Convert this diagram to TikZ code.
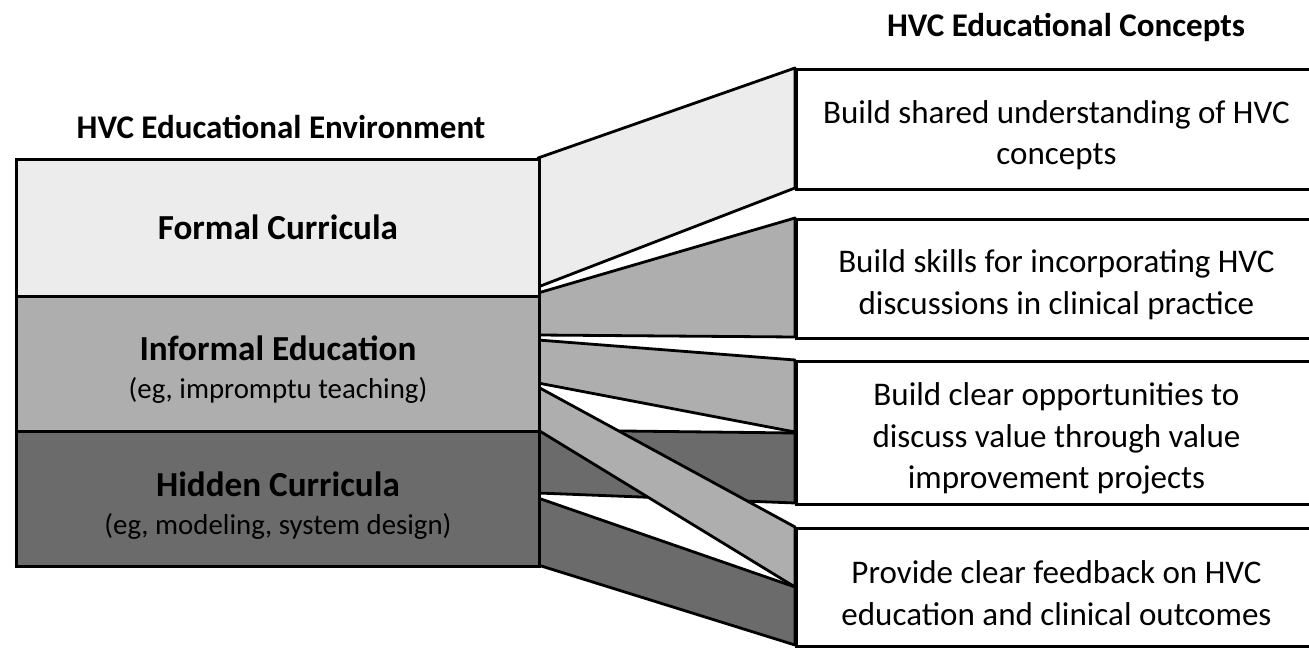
\documentclass[tikz,border=0pt]{standalone}
\usepackage{fontspec}
\setmainfont{Carlito}
\definecolor{formalgray}{HTML}{ECECEC}
\definecolor{informalgray}{HTML}{AEAEAE}
\definecolor{hiddengray}{HTML}{6B6B6B}
\tikzset{
  band/.style={draw=black, line width=0.07cm, line join=round},
  envbox/.style={draw=black, line width=0.07cm, anchor=north west, inner sep=0pt,
    minimum width=13.075cm},
  envlabel/.style={align=center, font=\fontsize{25}{27}\selectfont\bfseries},
  conceptbox/.style={draw=black, line width=0.07cm, fill=white, anchor=north west,
    inner sep=0pt, minimum width=13cm},
  conceptlabel/.style={align=center, font=\fontsize{23.5}{29.5}\selectfont,
    yshift=-0.14cm},
  heading/.style={font=\fontsize{23.5}{26}\selectfont\bfseries}
}
\newcommand{\envnote}[1]{{\fontsize{20.5}{27}\selectfont\mdseries #1}}
\begin{document}
\begin{tikzpicture}[x=0.025cm, y=-0.025cm]
                \useasboundingbox (0,0) rectangle (1309,648);
                \clip (0,0) rectangle (1309,648);

                % Drawing band formal -> shared understanding
                \draw [band, fill=formalgray] (538,158) -- (795,68) -- (795,188) -- (538,287) -- cycle;

                % Drawing band informal -> skills
                \draw [band, fill=informalgray] (538,293) -- (795,218) -- (795,337) -- (538,335) -- cycle;

                % Drawing band informal -> opportunities
                \draw [band, fill=informalgray] (538,340) -- (795,360) -- (795,432) -- (538,383) -- cycle;

                % Drawing band hidden -> opportunities
                \draw [band, fill=hiddengray] (538,430) -- (795,433) -- (795,503) -- (538,493) -- cycle;

                % Drawing band informal -> feedback
                \draw [band, fill=informalgray] (538,387) -- (795,527) -- (795,587) -- (538,430) -- cycle;

                % Drawing band hidden -> feedback
                \draw [band, fill=hiddengray] (538,498) -- (795,587) -- (795,645) -- (538,565) -- cycle;

                % Marking environment boxes
                \node [envbox, fill=formalgray, minimum height=3.425cm,
                  label={[envlabel, yshift=0.02cm]center:Formal Curricula}] (formal) at (15,158) {};
                \node [envbox, fill=informalgray, minimum height=3.375cm,
                  label={[envlabel, yshift=-0.15cm]center:Informal Education\\\envnote{(eg, impromptu teaching)}}]
                  (informal) at (15,295) {};
                \node [envbox, fill=hiddengray, minimum height=3.375cm,
                  label={[envlabel, yshift=-0.16cm]center:Hidden Curricula\\\envnote{(eg, modeling, system design)}}]
                  (hidden) at (15,430) {};

                % Marking concept boxes
                \node [conceptbox, minimum height=3cm,
                  label={[conceptlabel]center:Build shared understanding of HVC\\concepts}] (shared) at (795,68) {};
                \node [conceptbox, minimum height=2.975cm,
                  label={[conceptlabel]center:Build skills for incorporating HVC\\discussions in clinical practice}]
                  (skills) at (795,218) {};
                \node [conceptbox, minimum height=3.575cm,
                  label={[conceptlabel]center:Build clear opportunities to\\discuss value through value\\improvement projects}]
                  (opportunities) at (795,360) {};
                \node [conceptbox, minimum height=2.95cm,
                  label={[conceptlabel]center:Provide clear feedback on HVC\\education and clinical outcomes}]
                  (feedback) at (795,527) {};

                % Marking headings
                \node [heading] (envhead) at (281,127) {HVC Educational Environment};
                \node [heading] (concepthead) at (1066,27) {HVC Educational Concepts};
\end{tikzpicture}
\end{document}
